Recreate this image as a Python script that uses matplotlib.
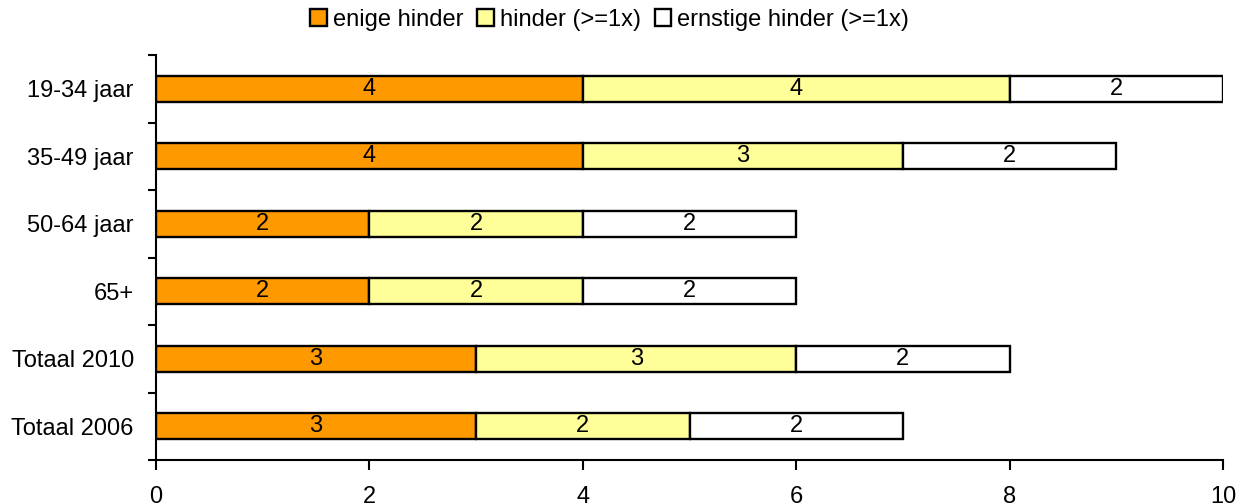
import numpy as np
import matplotlib
matplotlib.use('Agg')
import matplotlib.pyplot as plt
from matplotlib.ticker import FixedLocator

plt.rcParams['font.family'] = ['Liberation Sans', 'DejaVu Sans']

# data
categorieen = ['19-34 jaar', '35-49 jaar', '50-64 jaar', '65+', 'Totaal 2010', 'Totaal 2006']
enige_hinder = [4, 4, 2, 2, 3, 3]
hinder = [4, 3, 2, 2, 3, 2]
ernstige_hinder = [2, 2, 2, 2, 2, 2]
reeksen = ['enige hinder', 'hinder (>=1x)', 'ernstige hinder (>=1x)']
kleuren = ['#FF9900', '#FFFF99', '#FFFFFF']

fs = 17

fig = plt.figure(figsize=(12.52, 5.03), dpi=100)
ax = fig.add_axes([156/1252, 1 - 460/503, (1223 - 156)/1252, (460 - 55)/503])

y = np.arange(len(categorieen))
links = np.zeros(len(categorieen))
for naam, waarden, kleur in zip(reeksen, [enige_hinder, hinder, ernstige_hinder], kleuren):
    bars = ax.barh(y, waarden, left=links, height=0.39, color=kleur,
                   edgecolor='black', linewidth=1.7, label=naam)
    ax.bar_label(bars, labels=[str(v) for v in waarden], label_type='center', fontsize=fs)
    links += np.array(waarden)

ax.set_ylim(len(categorieen) - 0.5, -0.5)
ax.set_xlim(0, 10)
ax.set_xticks(range(0, 11, 2))
ax.tick_params(axis='x', labelsize=fs, length=7, width=1.5, direction='out', pad=12)

ax.set_yticks(y)
ax.set_yticklabels(categorieen, fontsize=fs)
ax.tick_params(axis='y', which='major', length=0, pad=16)
ax.yaxis.set_minor_locator(FixedLocator(np.arange(-0.5, len(categorieen), 1)))
ax.tick_params(axis='y', which='minor', length=6, width=1.5, direction='out')

for s in ['top', 'right']:
    ax.spines[s].set_visible(False)
for s in ['left', 'bottom']:
    ax.spines[s].set_linewidth(1.5)

fig.legend(*ax.get_legend_handles_labels(), loc='center', bbox_to_anchor=(0.487, 1 - 20/503),
           ncol=3, frameon=False, fontsize=fs, handlelength=0.7, handleheight=0.7,
           handletextpad=0.25, columnspacing=0.6, borderaxespad=0)

fig.savefig('out.png', dpi=100)
